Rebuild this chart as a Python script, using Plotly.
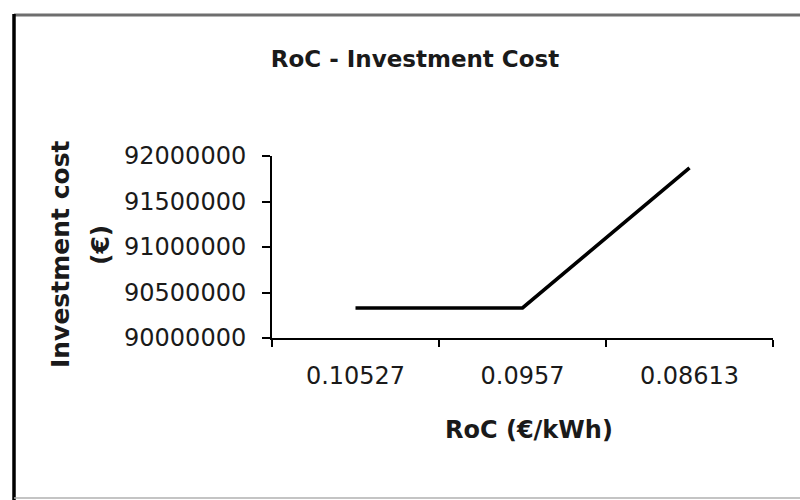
import plotly.graph_objects as go

# Data
roc_labels = ["0.10527", "0.0957", "0.08613"]
investment_cost = [90330000, 90330000, 91870000]
y_ticks = [90000000, 90500000, 91000000, 91500000, 92000000]

W, H = 800, 500
L, R, T, B = 272, 27, 156, 162
pw, ph = W - L - R, H - T - B

def px_x(x):
    return (x - L) / pw

def px_y(y):
    return (H - B - y) / ph

FONT = "DejaVu Sans, Liberation Sans, Arial, sans-serif"
TXT = "#1a1a1a"

fig = go.Figure()
fig.add_trace(go.Scatter(
    x=roc_labels, y=investment_cost, mode="lines",
    line=dict(color="black", width=3.6), showlegend=False, hoverinfo="skip",
))

fig.update_layout(
    width=W, height=H,
    margin=dict(l=L, r=R, t=T, b=B, pad=0),
    paper_bgcolor="white", plot_bgcolor="white",
    font=dict(family=FONT, color=TXT),
    title=dict(text="<b>RoC - Investment Cost</b>", x=415 / W, xanchor="center",
               y=1 - 59 / H, yanchor="middle", font=dict(size=23, family=FONT, color=TXT)),
    xaxis=dict(
        type="category", range=[-0.5, 2.5], showline=True, linecolor="black", linewidth=2,
        ticks="outside", tickson="boundaries", ticklen=7, tickwidth=2, tickcolor="black",
        showgrid=False, zeroline=False, tickfont=dict(size=24, family=FONT, color=TXT),
        ticklabelstandoff=15,
    ),
    yaxis=dict(
        range=[90000000, 92000000], tickvals=y_ticks, ticktext=[str(v) for v in y_ticks],
        showline=True, linecolor="black", linewidth=2, ticks="outside", ticklen=8,
        tickwidth=2, tickcolor="black", showgrid=False, zeroline=False,
        tickfont=dict(size=24, family=FONT, color=TXT), ticklabelstandoff=11,
    ),
)

# x axis title
fig.add_annotation(
    text="<b>RoC (€/kWh)</b>", xref="paper", yref="paper",
    x=px_x(529), y=px_y(430), xanchor="center", yanchor="middle", showarrow=False,
    font=dict(size=24, family=FONT, color=TXT),
)

# y axis title (two lines, rotated)
fig.add_annotation(
    text="<b>Investment cost</b>", textangle=-90,
    xref="paper", yref="paper", x=px_x(60), y=px_y(254),
    xanchor="center", yanchor="middle", showarrow=False,
    font=dict(size=25, family=FONT, color=TXT),
)
fig.add_annotation(
    text="<b>(€)</b>", textangle=-90,
    xref="paper", yref="paper", x=px_x(100), y=px_y(245),
    xanchor="center", yanchor="middle", showarrow=False,
    font=dict(size=25, family=FONT, color=TXT),
)

# page border lines
fig.add_shape(type="line", xref="paper", yref="paper",
              x0=px_x(14), x1=px_x(800), y0=px_y(15), y1=px_y(15),
              line=dict(color="#6e6e6e", width=3))
fig.add_shape(type="line", xref="paper", yref="paper",
              x0=px_x(14), x1=px_x(14), y0=px_y(14), y1=px_y(500),
              line=dict(color="black", width=3.5))
fig.add_shape(type="line", xref="paper", yref="paper",
              x0=px_x(14), x1=px_x(800), y0=px_y(498), y1=px_y(498),
              line=dict(color="#b0b0b0", width=1.5))

fig.write_html("out.html")
